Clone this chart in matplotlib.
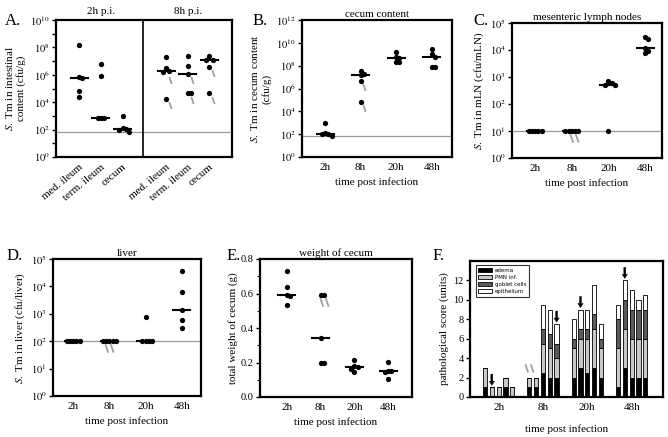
import numpy as np
import matplotlib
matplotlib.use('Agg')
import matplotlib.pyplot as plt
from matplotlib.patches import Patch
from matplotlib.path import Path
from matplotlib.ticker import NullLocator, FixedLocator, MultipleLocator
from matplotlib.transforms import blended_transform_factory

plt.rcParams['font.family'] = 'Liberation Serif'
plt.rcParams['mathtext.fontset'] = 'stix'
plt.rcParams['font.size'] = 8

W, H = 668, 437

# ---------------- data (log10 cfu unless noted) ----------------
times = ['2h', '8h', '20h', '48h']
a_sites = ['med. ileum', 'term. ileum', 'cecum']
a_2h = [[8.2, 5.85, 5.75, 4.8, 4.4],
        [6.8, 5.9, 2.85, 2.85, 2.85],
        [3.0, 2.1, 2.05, 2.0, 1.8]]
a_8h = [[7.3, 6.5, 6.25, 6.2, 4.2],
        [7.35, 6.65, 6.05, 4.65, 4.65],
        [7.35, 7.1, 7.05, 6.55, 4.7]]
a_limit = 1.8
a_marks = [[5.6, 3.8], [5.6, 4.15], [6.1, 4.15]]   # grey marks, 8h

b_cecum = [[3.0, 2.1, 2.05, 2.0, 1.85],
           [7.55, 7.3, 7.15, 6.65, 4.8],
           [9.2, 8.75, 8.7, 8.35, 8.3],
           [9.5, 9.0, 8.75, 7.9, 7.85]]
b_limit = 1.85
b_marks = [6.17, 4.27]

c_mln = [[1, 1, 1, 1, 1],
         [1, 1, 1, 1, 1],
         [2.85, 2.78, 2.72, 2.7, 1.0],
         [4.5, 4.4, 4.08, 3.95, 3.9]]
c_limit = 1.0
c_mark = 0.73

d_liver = [[2, 2, 2, 2, 2],
           [2, 2, 2, 2, 2],
           [2.87, 2, 2, 2, 2],
           [4.55, 3.8, 3.15, 2.77, 2.47]]
d_limit = 2.0
d_mark = 1.74

# cecum weight in g
e_weight = [[0.73, 0.635, 0.59, 0.585, 0.535],
            [0.59, 0.59, 0.34, 0.2, 0.2],
            [0.215, 0.18, 0.175, 0.16, 0.145],
            [0.205, 0.15, 0.15, 0.145, 0.105]]
e_mark = 0.553

# pathological score, 5 mice per time point
f_edema = [[1, 0, 0, 1, 0], [1, 1, 2.5, 2, 2], [2, 3, 2.5, 3, 2], [1, 3, 2, 2, 2]]
f_pmn = [[2, 1, 1, 1, 1], [1, 1, 3, 3, 2], [3, 3, 3.5, 4, 3], [4, 4, 4, 4, 4]]
f_goblet = [[0, 0, 0, 0, 0], [0, 0, 1.5, 1.5, 1.5], [1, 1, 1, 1.5, 1], [3, 3, 3, 3, 3]]
f_epi = [[0, 0, 0, 0, 0], [0, 0, 2.5, 2.5, 2], [2, 2, 2, 3, 1.5], [1.5, 2, 2, 1, 1.5]]
f_arrows = [(0, 1), (1, 4), (2, 1), (3, 1)]
f_mark = 2.95
f_labels = ['edema', 'PMN inf.', 'goblet cells', 'epithelium']
f_colors = ['black', '#c8c8c8', '#5a5a5a', 'white']

# ---------------- helpers ----------------
fig = plt.figure(figsize=(W / 100, H / 100), dpi=100)


def px_axes(l, t, r, b):
    return fig.add_axes([l / W, 1 - b / H, (r - l) / W, (b - t) / H])


def swarm(vals, ppu_x, ppu_y, step=3.2, dia=4.5):
    placed, offs = [], []
    for v in vals:
        k = 0
        while True:
            m = (k + 1) // 2
            dx = (1 if k % 2 else -1) * m * step
            hit = any(abs(py - v * ppu_y) < dia and abs(px - dx) < step * 0.9
                      for px, py in placed)
            if not hit:
                break
            k += 1
        placed.append((dx, v * ppu_y))
        offs.append(dx / ppu_x)
    return np.array(offs)


single = Path([(-0.35, 1), (0.35, -1)], [Path.MOVETO, Path.LINETO])
double = Path([(-1.0, 1), (-0.3, -1), (0.3, 1), (1.0, -1)],
              [Path.MOVETO, Path.LINETO, Path.MOVETO, Path.LINETO])


def mark(ax, x, y, kind):
    m = single if kind == 1 else double
    ax.plot([x], [y], marker=m, ms=5 if kind == 1 else 6, mew=1.3,
            color='#a0a0a0', ls='none', zorder=2)


def dots(ax, xs, groups, ppu_x, ppu_y, log=True):
    hw = 8.5 / ppu_x
    for x, vals in zip(xs, groups):
        offs = swarm(vals, ppu_x, ppu_y)
        v = np.array(vals, dtype=float)
        yy = 10 ** v if log else v
        ax.plot(x + offs, yy, 'o', color='black', ms=3.8, mec='none', zorder=3)
        med = np.median(v)
        ax.plot([x - hw, x + hw], [10 ** med if log else med] * 2,
                color='black', lw=1.5, zorder=4)


def frame(ax):
    for s in ax.spines.values():
        s.set_linewidth(1.6)
    ax.tick_params(axis='y', direction='out', length=3, width=1, labelsize=7.5, pad=1.5)
    ax.tick_params(axis='y', which='minor', direction='out', length=2, width=0.8)
    ax.tick_params(axis='x', length=0, labelsize=8, pad=4)


def log_ticks(ax, top, label_every):
    ax.set_yscale('log')
    ax.set_ylim(1, 10 ** top)
    ax.yaxis.set_major_locator(FixedLocator([10 ** k for k in range(top + 1)]))
    ax.yaxis.set_minor_locator(NullLocator())
    ax.set_yticklabels([r'$10^{%d}$' % k if k % label_every == 0 else ''
                        for k in range(top + 1)])


def limit_line(ax, y):
    ax.axhline(10 ** y, color='#9a9a9a', lw=0.9, zorder=1)


def letter(x, y, s):
    fig.text(x / W, 1 - y / H, s, fontsize=12, va='baseline')


# ---------------- A ----------------
ax = px_axes(56, 20, 232, 157)
frame(ax)
log_ticks(ax, 10, 2)
ax.set_xlim(-0.07, 8.04)
limit_line(ax, a_limit)
ax.axvline(3.95, color='black', lw=1.2)
dots(ax, [1, 2, 3], a_2h, 21.7, 13.7)
dots(ax, [5, 6, 7], a_8h, 21.7, 13.7)
for x, ys in zip([5, 6, 7], a_marks):
    for y in ys:
        mark(ax, x + 4 / 21.7, 10 ** y, 1)
ax.set_xticks([1, 2, 3, 5, 6, 7])
ax.set_xticklabels(a_sites * 2, rotation=40, ha='right', va='top',
                   rotation_mode='anchor')
tr = blended_transform_factory(ax.transData, ax.transAxes)
ax.text(2, 1.03, '2h p.i.', transform=tr, ha='center', va='bottom')
ax.text(6, 1.03, '8h p.i.', transform=tr, ha='center', va='bottom')
ax.set_ylabel('$\\mathit{S.}$ Tm in intestinal\ncontent (cfu/g)', labelpad=3)
letter(5, 25, 'A.')

# ---------------- B ----------------
ax = px_axes(302, 20, 452, 157)
frame(ax)
log_ticks(ax, 12, 2)
ax.yaxis.set_major_locator(FixedLocator([10 ** k for k in range(0, 13, 2)]))
ax.set_yticklabels([r'$10^{%d}$' % k for k in range(0, 13, 2)])
ax.set_xlim(-0.65, 3.57)
limit_line(ax, b_limit)
dots(ax, range(4), b_cecum, 35.5, 11.42)
for y in b_marks:
    mark(ax, 1 + 3.5 / 35.5, 10 ** y, 1)
ax.set_xticks(range(4))
ax.set_xticklabels(times)
ax.set_title('cecum content', fontsize=8, pad=2)
ax.set_ylabel('$\\mathit{S.}$ Tm in cecum content\n(cfu/g)', labelpad=3)
ax.set_xlabel('time post infection', labelpad=4)
letter(253, 25, 'B.')

# ---------------- C ----------------
ax = px_axes(512, 23, 662, 158)
frame(ax)
log_ticks(ax, 5, 1)
ax.set_xlim(-0.63, 3.46)
limit_line(ax, c_limit)
dots(ax, range(4), c_mln, 36.7, 27)
mark(ax, 1 + 2 / 36.7, 10 ** c_mark, 2)
ax.set_xticks(range(4))
ax.set_xticklabels(times)
ax.set_title('mesenteric lymph nodes', fontsize=8, pad=2)
ax.set_ylabel('$\\mathit{S.}$ Tm in mLN (cfu/mLN)', labelpad=3)
ax.set_xlabel('time post infection', labelpad=4)
letter(473, 25, 'C.')

# ---------------- D ----------------
ax = px_axes(53, 259, 201, 396)
frame(ax)
log_ticks(ax, 5, 1)
ax.set_xlim(-0.56, 3.53)
limit_line(ax, d_limit)
dots(ax, range(4), d_liver, 36.1, 27.4)
mark(ax, 1, 10 ** d_mark, 2)
ax.set_xticks(range(4))
ax.set_xticklabels(times)
ax.set_title('liver', fontsize=8, pad=2)
ax.set_ylabel('$\\mathit{S.}$ Tm in liver (cfu/liver)', labelpad=3)
ax.set_xlabel('time post infection', labelpad=4)
letter(7, 260, 'D.')

# ---------------- E ----------------
ax = px_axes(260, 259, 412, 397)
frame(ax)
ax.set_ylim(0, 0.8)
ax.yaxis.set_major_locator(MultipleLocator(0.2))
ax.yaxis.set_minor_locator(MultipleLocator(0.1))
ax.yaxis.set_major_formatter(matplotlib.ticker.FormatStrFormatter('%.1f'))
ax.set_xlim(-0.79, 3.70)
dots(ax, range(4), e_weight, 33.9, 172.5, log=False)
mark(ax, 1 + 3 / 33.9, e_mark, 2)
ax.set_xticks(range(4))
ax.set_xticklabels(times)
ax.set_title('weight of cecum', fontsize=8, pad=2)
ax.set_ylabel('total weight of cecum (g)', labelpad=2)
ax.set_xlabel('time post infection', labelpad=4)
letter(227, 260, 'E.')

# ---------------- F ----------------
ax = px_axes(470, 261, 663, 397)
frame(ax)
ax.set_ylim(0, 14)
ax.set_xlim(-2.2, 26.1)
ax.set_yticks(range(0, 13, 2))
starts = [0, 6.5, 13, 19.5]
for g, s0 in enumerate(starts):
    xs = s0 + np.arange(5)
    bottom = np.zeros(5)
    for seg, col in zip([f_edema, f_pmn, f_goblet, f_epi], f_colors):
        h = np.array(seg[g], dtype=float)
        ax.bar(xs, h, width=0.62, bottom=bottom, color=col,
               edgecolor='black', linewidth=0.6, zorder=2)
        bottom += h
for g, i in f_arrows:
    x = starts[g] + i
    top = f_edema[g][i] + f_pmn[g][i] + f_goblet[g][i] + f_epi[g][i]
    ax.annotate('', xy=(x, top + 0.2), xytext=(x, top + 1.35),
                arrowprops=dict(facecolor='black', edgecolor='black', lw=0.3,
                                width=1.4, headwidth=3.8, headlength=3, shrink=0))
mark(ax, 6.4, f_mark, 2)
ax.set_xticks([s0 + 2 for s0 in starts])
ax.set_xticklabels(times)
handles = [Patch(facecolor=c, edgecolor='black', linewidth=0.6) for c in f_colors]
leg = ax.legend(handles, f_labels, loc='upper left', bbox_to_anchor=(0.015, 0.99),
                prop={'family': 'DejaVu Sans', 'size': 4}, frameon=True,
                fancybox=False, edgecolor='black', handlelength=2.4,
                handleheight=0.7, labelspacing=0.35, borderpad=0.5,
                handletextpad=0.6)
leg.get_frame().set_linewidth(0.8)
ax.set_ylabel('pathological score (units)', labelpad=3)
ax.set_xlabel('time post infection', labelpad=9)
letter(433, 260, 'F.')

fig.savefig('out.png', dpi=100, facecolor='white')
